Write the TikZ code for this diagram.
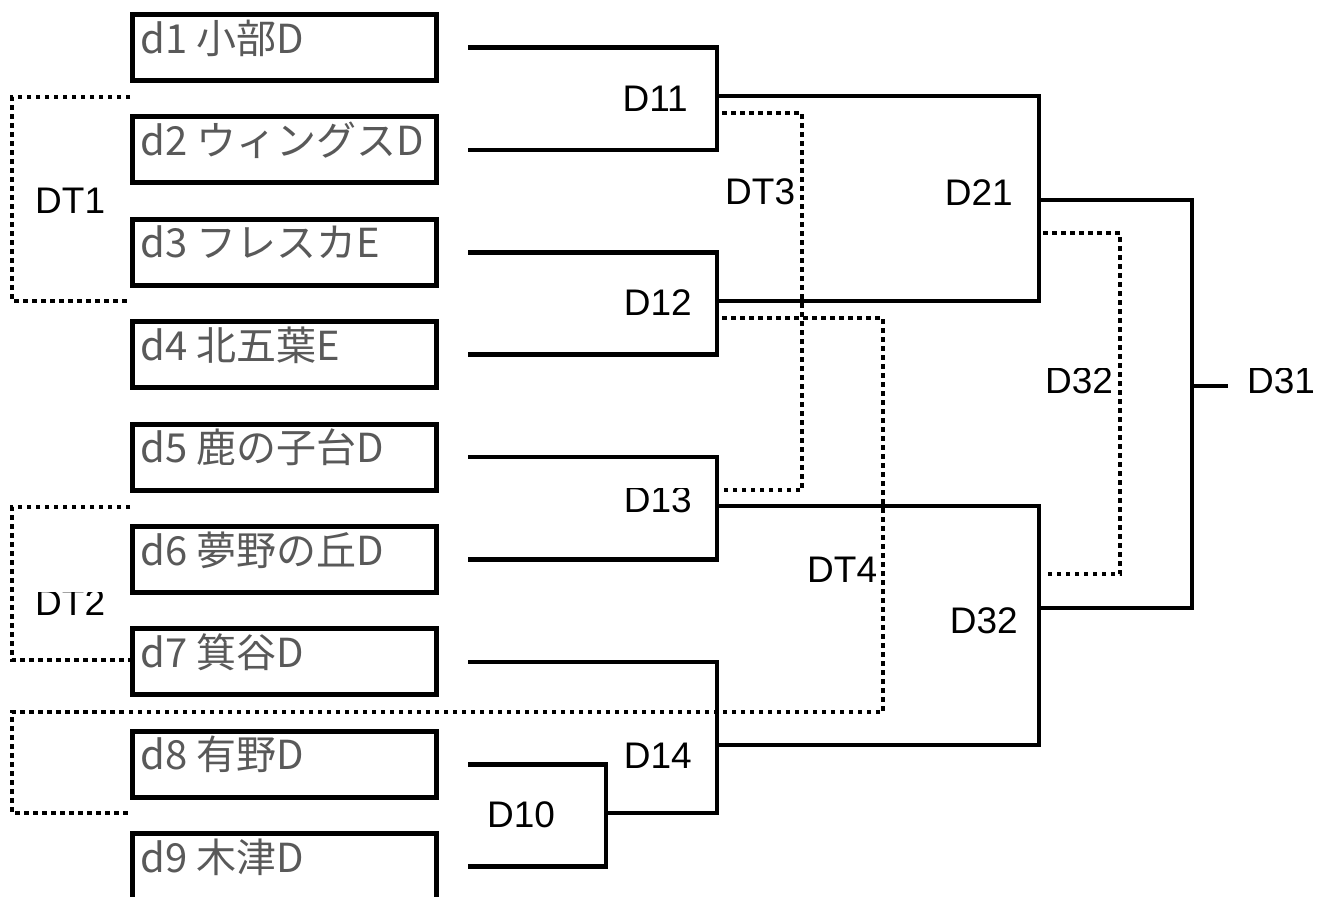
\documentclass[tikz,border=0pt]{standalone}
\usepackage{fontspec}
\setmainfont{Liberation Sans}
\newfontfamily\jpfont{Noto Sans CJK JP}
\usetikzlibrary{positioning, calc}
\definecolor{teamgray}{RGB}{89,89,89}
\tikzstyle{Team} = [
draw, line width=5pt,
minimum width=304pt, minimum height=66pt,
anchor=north west, inner sep=0pt]
\tikzstyle{Name} = [
anchor=base west, inner sep=0pt, text=teamgray,
font=\jpfont\fontsize{40pt}{40pt}\selectfont]
\tikzstyle{Line} = [line width=4.5pt]
\tikzstyle{Dot} = [line width=4.5pt, dash pattern=on 4.5pt off 4.5pt]
\tikzstyle{Round} = [inner sep=0pt, font=\fontsize{37pt}{37pt}\selectfont]

\begin{document}
\begin{tikzpicture}[x=1pt, y=-1pt]
    \useasboundingbox (0,0) rectangle (1326,897);
    \clip (0,0) rectangle (1326,897);

    % teams
    \foreach \i/\team in {1/d1 小部D, 2/d2 ウィングスD, 3/d3 フレスカE,
            4/d4 北五葉E, 5/d5 鹿の子台D, 6/d6 夢野の丘D, 7/d7 箕谷D,
            8/d8 有野D, 9/d9 木津D} {
        \node [Team] (d\i) at (130, {12 + (\i-1)*102.4}) {};
        \node [Name] (t\i) at ($(d\i.north west)+(10,41)$) {\team};
        \coordinate (a\i) at ($(d\i.west)+(338,0)$);
    }

    % matches
    \coordinate (m11) at (717,96);
    \coordinate (m12) at (717,301);
    \coordinate (m13) at (717,506);
    \coordinate (m10) at (606,813);
    \coordinate (m14) at (717,745);
    \coordinate (m21) at (1039,200);
    \coordinate (m32) at (1039,608);
    \coordinate (m31) at (1192,386);
    \coordinate (e31) at (1228,386);

    \draw[Line] (a1) -| (m11) |- (a2);
    \draw[Line] (a3) -| (m12) |- (a4);
    \draw[Line] (a5) -| (m13) |- (a6);
    \draw[Line] (a8) -| (m10) |- (a9);
    \draw[Line] (a7) -| (m14) |- (m10);
    \draw[Line] (m11) -| (m21);
    \draw[Line] (m12) -| (m21);
    \draw[Line] (m13) -| (m32);
    \draw[Line] (m14) -| (m32);
    \draw[Line] (m21) -| (m31);
    \draw[Line] (m32) -| (m31);
    \draw[Line] (m31) -- (e31);

    % dotted brackets
    \coordinate (p1) at (130,97);
    \coordinate (p2) at (130,301);
    \coordinate (p3) at (130,507);
    \coordinate (p4) at (130,660);
    \coordinate (p5) at (130,813);
    \coordinate (q1) at (722,113);
    \coordinate (q2) at (722,490);
    \coordinate (q3) at (722,318);
    \coordinate (r1) at (1043,233);
    \coordinate (r2) at (1043,574);

    \draw[Dot] (p1) -- (12,97) |- (p2);
    \draw[Dot] (p3) -- (12,507) |- (p4);
    \draw[Dot] (q1) -- (802,113) |- (q2);
    \draw[Dot] (q3) -- (883,318) |- (12,712) |- (p5);
    \draw[Dot] (r1) -- (1120,233) |- (r2);

    % labels
    \node [Round, anchor=base east] (D11) at (688,111) {D11};
    \node [Round, anchor=base east] (D12) at (692,315) {D12};
    \node [Round, anchor=base east] (D14) at (692,768) {D14};
    \node [Round, anchor=base west] (D10) at (487,827) {D10};
    \node [Round, anchor=base east] (D21) at (1013,205) {D21};
    \node [Round, anchor=base east] (D32) at (1018,633) {D32};
    \node [Round, anchor=base west] (DT1) at (35,213) {DT1};
    \node [Round, anchor=base west] (DT3) at (725,204) {DT3};
    \node [Round, anchor=base west] (DT4) at (807,582) {DT4};
    \begin{scope}
        \clip (600,488) rectangle (710,530);
        \node [Round, anchor=base east] (D13) at (692,512) {D13};
    \end{scope}
    \begin{scope}
        \clip (1040,368) rectangle (1326,420);
        \node [Round, anchor=base west] (D32b) at (1045,393) {D32};
        \node [Round, anchor=base west] (D31) at (1247,393) {D31};
    \end{scope}
    \begin{scope}
        \clip (20,592) rectangle (125,630);
        \node [Round, anchor=base west] (DT2) at (35,615) {DT2};
    \end{scope}
\end{tikzpicture}
\end{document}
